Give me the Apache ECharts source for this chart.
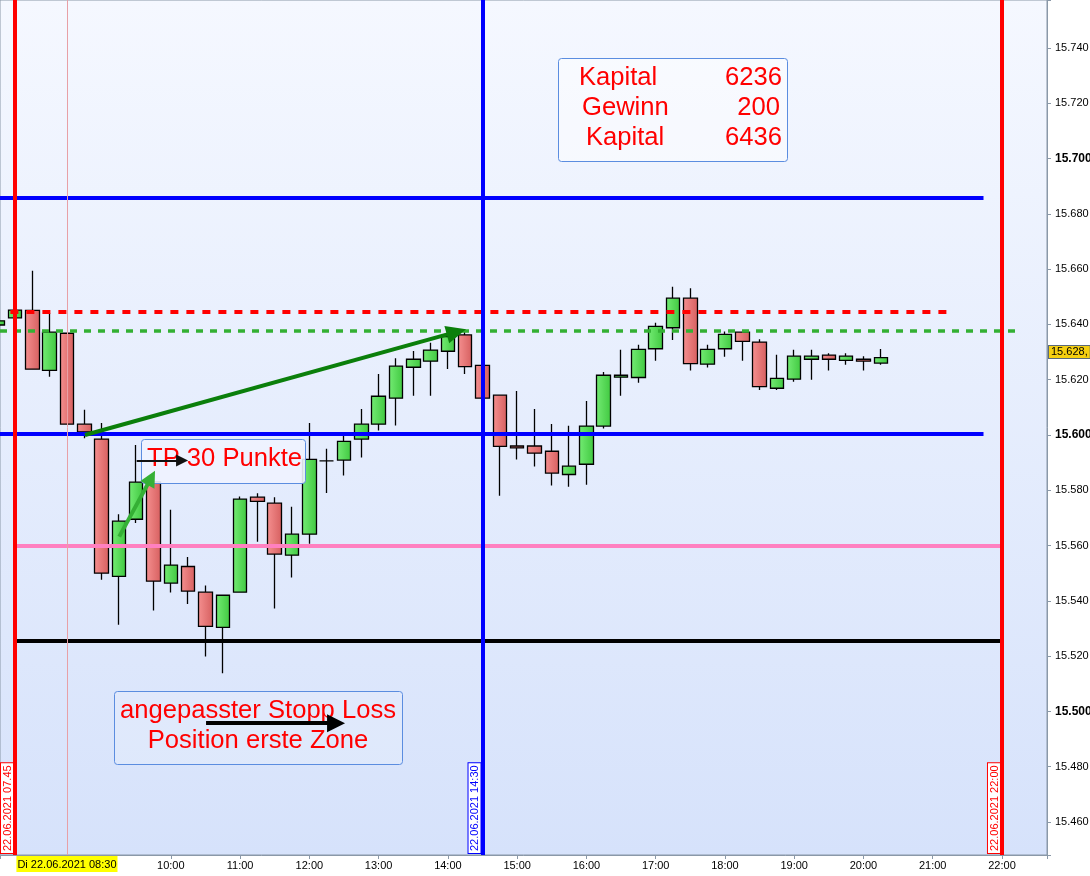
<!DOCTYPE html>
<html>
<head>
<meta charset="utf-8">
<script src="https://cdn.jsdelivr.net/npm/echarts@6/dist/echarts.min.js"></script>
<style>
  html, body { margin: 0; padding: 0; background: #fff; }
  #main { width: 1090px; height: 876px; }
</style>
</head>
<body>
<div id="main"></div>
<script>
// 15-Minuten-Kerzen vom 22.06.2021
var times = ['07:30', '07:45', '08:00', '08:15', '08:30', '08:45', '09:00', '09:15', '09:30', '09:45',
  '10:00', '10:15', '10:30', '10:45', '11:00', '11:15', '11:30', '11:45', '12:00', '12:15',
  '12:30', '12:45', '13:00', '13:15', '13:30', '13:45', '14:00', '14:15', '14:30', '14:45',
  '15:00', '15:15', '15:30', '15:45', '16:00', '16:15', '16:30', '16:45', '17:00', '17:15',
  '17:30', '17:45', '18:00', '18:15', '18:30', '18:45', '19:00', '19:15', '19:30', '19:45',
  '20:00', '20:15'];
var opens = [15.6398, 15.6424, 15.6451, 15.6234, 15.6368, 15.6039, 15.5985, 15.5488, 15.5695, 15.5830,
  15.5464, 15.5524, 15.5431, 15.5304, 15.5431, 15.5775, 15.5753, 15.5565, 15.5641, 15.5906,
  15.5909, 15.5985, 15.6039, 15.6133, 15.6245, 15.6267, 15.6303, 15.6362, 15.6252, 15.6144,
  15.5960, 15.5960, 15.5941, 15.5857, 15.5894, 15.6032, 15.6209, 15.6208, 15.6312, 15.6388,
  15.6495, 15.6256, 15.6312, 15.6372, 15.6336, 15.6169, 15.6202, 15.6274, 15.6289, 15.6270,
  15.6274, 15.6260];
var closes = [15.6413, 15.6452, 15.6238, 15.6372, 15.6039, 15.6011, 15.5500, 15.5688, 15.5829, 15.5471,
  15.5529, 15.5435, 15.5307, 15.5420, 15.5768, 15.5760, 15.5569, 15.5641, 15.5912, 15.5906,
  15.5977, 15.6039, 15.6140, 15.6249, 15.6274, 15.6307, 15.6356, 15.6247, 15.6133, 15.5959,
  15.5953, 15.5934, 15.5862, 15.5887, 15.6032, 15.6216, 15.6216, 15.6310, 15.6393, 15.6495,
  15.6258, 15.6310, 15.6364, 15.6339, 15.6175, 15.6205, 15.6285, 15.6285, 15.6274, 15.6285,
  15.6267, 15.6280];
var lows = [15.6395, 15.6424, 15.6236, 15.6211, 15.6037, 15.5988, 15.5476, 15.5313, 15.5681, 15.5365,
  15.5430, 15.5388, 15.5198, 15.5138, 15.5431, 15.5614, 15.5372, 15.5484, 15.5606, 15.5790,
  15.5853, 15.5918, 15.6016, 15.6034, 15.6142, 15.6142, 15.6239, 15.6221, 15.6133, 15.5780,
  15.5911, 15.5886, 15.5817, 15.5813, 15.5820, 15.6023, 15.6142, 15.6189, 15.6269, 15.6344,
  15.6233, 15.6244, 15.6283, 15.6269, 15.6163, 15.6163, 15.6193, 15.6200, 15.6233, 15.6254,
  15.6233, 15.6254];
var highs = [15.6416, 15.6452, 15.6594, 15.6441, 15.6368, 15.6091, 15.6043, 15.5713, 15.5964, 15.5850,
  15.5729, 15.5558, 15.5455, 15.5420, 15.5777, 15.5789, 15.5775, 15.5740, 15.6043, 15.5950,
  15.5997, 15.6094, 15.6221, 15.6278, 15.6304, 15.6334, 15.6370, 15.6376, 15.6252, 15.6144,
  15.6159, 15.6094, 15.6040, 15.6033, 15.6123, 15.6228, 15.6308, 15.6326, 15.6406, 15.6536,
  15.6531, 15.6326, 15.6374, 15.6372, 15.6346, 15.6290, 15.6308, 15.6308, 15.6296, 15.6296,
  15.6285, 15.6311];

// horizontale Linien (Zonen)
var levelNames = ['blauOben', 'rotTP', 'gruenEinstieg', 'blauMitte', 'pinkZone', 'schwarzSL'];
var levelValues = [15.6857, 15.6447, 15.6377, 15.6006, 15.5598, 15.5257];
// vertikale Zeitmarken
var markTimes = ['07:45', '08:30', '14:30', '22:00'];
var markLabels = ['22.06.2021 07.45', 'Di 22.06.2021 08:30', '22.06.2021 14:30', '22.06.2021 22:00'];
var lastPrice = 15.628;
var lastPriceLabel = '15.628,';

var infoRows = [['Kapital', '6236'], ['Gewinn', '200'], ['Kapital', '6436']];
var tpText = 'TP 30 Punkte';
var slText = ['angepasster Stopp Loss', 'Position erste Zone'];

function toMin(s) {
  var p = s.split(':');
  return +p[0] * 60 + +p[1];
}

var candleData = times.map(function (t, i) {
  return [toMin(t), opens[i], closes[i], lows[i], highs[i]];
});

var FONT = '"Liberation Sans", Arial, sans-serif';
var xMin = 452, xMax = 1359;

var green = new echarts.graphic.LinearGradient(0, 0, 1, 0, [
  { offset: 0, color: '#74ec74' }, { offset: 1, color: '#40c840' }
]);
var red = new echarts.graphic.LinearGradient(0, 0, 1, 0, [
  { offset: 0, color: '#f59090' }, { offset: 1, color: '#d65f5f' }
]);

function hLine(i, x1, x2, style) {
  return [
    { coord: [x1, levelValues[i]], lineStyle: style },
    { coord: [x2, levelValues[i]] }
  ];
}

function vLine(i, color, width, label) {
  return { xAxis: toMin(markTimes[i]), lineStyle: { color: color, width: width, type: 'solid' }, label: label };
}

function vLabel(i, color) {
  return {
    show: true,
    position: 'insideStartTop',
    formatter: markLabels[i],
    color: color,
    fontFamily: FONT,
    fontSize: 11,
    backgroundColor: '#fff',
    borderColor: color,
    borderWidth: 1,
    padding: [1, 2, 0, 2],
    distance: 2
  };
}

function arrow(from, to, color, width, size) {
  return [
    { coord: from, lineStyle: { color: color, width: width, type: 'solid' } },
    { coord: to, symbol: 'triangle', symbolSize: size, itemStyle: { color: color } }
  ];
}

var markData = [
  hLine(0, 452, 1304, { color: '#0000ff', width: 4, type: 'solid' }),
  hLine(1, 461, 1274, { color: '#ff0000', width: 4, type: [8, 8] }),
  hLine(2, 452, 1335, { color: '#33b033', width: 3.5, type: [7, 7] }),
  hLine(3, 452, 1304, { color: '#0000ff', width: 4, type: 'solid' }),
  hLine(4, 465, 1320, { color: '#ff80c0', width: 4, type: 'solid' }),
  hLine(5, 465, 1320, { color: '#000000', width: 4, type: 'solid' }),
  vLine(0, '#ff0000', 4, vLabel(0, '#ff0000')),
  vLine(1, '#e8a0a6', 1, {
    show: true, position: 'start', formatter: markLabels[1], color: '#000',
    fontFamily: FONT, fontSize: 11, backgroundColor: '#ffff00', padding: [3, 1, 2, 1], distance: 1
  }),
  vLine(2, '#0000ff', 4, vLabel(2, '#0000ff')),
  vLine(3, '#ff0000', 4, vLabel(3, '#ff0000')),
  {
    yAxis: lastPrice, lineStyle: { color: 'rgba(0,0,0,0)', width: 1 },
    label: {
      show: true, position: 'end', formatter: lastPriceLabel, color: '#000', fontFamily: FONT, fontSize: 11,
      backgroundColor: '#f5cf10', borderColor: '#5a6a7a', borderWidth: 1, padding: [1, 2, 0, 2], distance: 2
    }
  },
  arrow([525.6, 15.6000], [847.4, 15.6373], '#0b7f0b', 4, [18, 20]),
  arrow([555.3, 15.5632], [583.0, 15.5845], '#35b035', 4, [16, 16]),
  arrow([570.4, 15.5908], [609.7, 15.5908], '#111', 2, [12, 12]),
  arrow([630.5, 15.4957], [743.1, 15.4957], '#000', 4, [18, 18])
];

// Textboxen: Rahmen über den Kerzen, Pfeile (markLine, z 5) darüber
var graphics = [
  {
    type: 'rect', z: 3, shape: { x: 558.5, y: 58.5, width: 229, height: 103, r: 3 },
    style: { fill: 'rgba(255,255,255,0.45)', stroke: '#5b8de0', lineWidth: 1 }
  },
  {
    type: 'rect', z: 3, shape: { x: 141.5, y: 439.5, width: 164, height: 44, r: 3 },
    style: { fill: 'rgba(238,243,255,0.9)', stroke: '#5b8de0', lineWidth: 1 }
  },
  {
    type: 'rect', z: 3, shape: { x: 114.5, y: 691.5, width: 288, height: 73, r: 3 },
    style: { fill: 'rgba(255,255,255,0.15)', stroke: '#5b8de0', lineWidth: 1 }
  }
];
var rowLeft = [579, 582, 586];
var rowRight = [782, 780, 782];
infoRows.forEach(function (r, i) {
  graphics.push({ type: 'text', z: 4, style: { text: r[0], x: rowLeft[i], y: 78 + i * 30, fill: '#ff0000', font: '25.6px ' + FONT, align: 'left', verticalAlign: 'middle' } });
  graphics.push({ type: 'text', z: 4, style: { text: r[1], x: rowRight[i], y: 78 + i * 30, fill: '#ff0000', font: '25.6px ' + FONT, align: 'right', verticalAlign: 'middle' } });
});
graphics.push({ type: 'text', z: 4, style: { text: tpText, x: 147, y: 459, fill: '#ff0000', font: '25.6px ' + FONT, align: 'left', verticalAlign: 'middle' } });
slText.forEach(function (s, i) {
  graphics.push({ type: 'text', z: 4, style: { text: s, x: 258, y: 710.5 + i * 30, fill: '#ff0000', font: '25.6px ' + FONT, align: 'center', verticalAlign: 'middle' } });
});

var myChart = echarts.init(document.getElementById('main'));
var option = {
  animation: false,
  backgroundColor: '#fff',
  grid: {
    left: 0, right: 43, top: 0, bottom: 21,
    outerBoundsMode: 'none',
    containLabel: false,
    show: true,
    backgroundColor: new echarts.graphic.LinearGradient(0, 0, 0, 1, [
      { offset: 0, color: '#f5f8ff' }, { offset: 1, color: '#d6e2fb' }
    ]),
    borderColor: '#8a98a8',
    borderWidth: 1
  },
  xAxis: {
    type: 'value',
    min: xMin,
    max: xMax,
    minInterval: 60,
    maxInterval: 60,
    splitLine: { show: false },
    axisLine: { show: true, lineStyle: { color: '#8a98a8' } },
    axisTick: { show: true, length: 4, lineStyle: { color: '#8a98a8' } },
    axisLabel: {
      fontFamily: FONT, fontSize: 11, color: '#000', margin: 5,
      formatter: function (v) {
        if (v % 60 !== 0 || v < 600) return '';
        var h = v / 60;
        return (h < 10 ? '0' + h : h) + ':00';
      }
    }
  },
  yAxis: {
    type: 'value',
    position: 'right',
    min: 15.448,
    max: 15.7574,
    minInterval: 0.02,
    maxInterval: 0.02,
    splitLine: { show: false },
    axisLine: { show: true, lineStyle: { color: '#8a98a8' } },
    axisTick: { show: true, length: 4, lineStyle: { color: '#8a98a8' } },
    axisLabel: {
      fontFamily: FONT, fontSize: 11, color: '#000', margin: 8,
      formatter: function (v) {
        var k = Math.round(v * 1000);
        if (Math.abs(v * 1000 - k) > 0.01 || k % 20 !== 0) return '';
        var s = (k / 1000).toFixed(3);
        return k % 100 === 0 ? '{b|' + s + '}' : s;
      },
      rich: { b: { fontFamily: FONT, fontSize: 12, fontWeight: 'bold', color: '#000' } }
    }
  },
  graphic: graphics,
  series: [
    {
      name: 'Kerzen',
      type: 'candlestick',
      data: candleData,
      encode: { x: 0, y: [1, 2, 3, 4] },
      barWidth: 14,
      clip: false,
      silent: true,
      itemStyle: {
        color: green,
        color0: red,
        borderColor: '#000',
        borderColor0: '#000',
        borderColorDoji: '#000',
        borderWidth: 1.3
      }
    },
    {
      name: 'Linien',
      type: 'line',
      data: [],
      silent: true,
      markLine: {
        silent: true,
        animation: false,
        symbol: ['none', 'none'],
        label: { show: false },
        emphasis: { disabled: true },
        data: markData
      }
    }
  ]
};
myChart.setOption(option);
</script>
</body>
</html>
